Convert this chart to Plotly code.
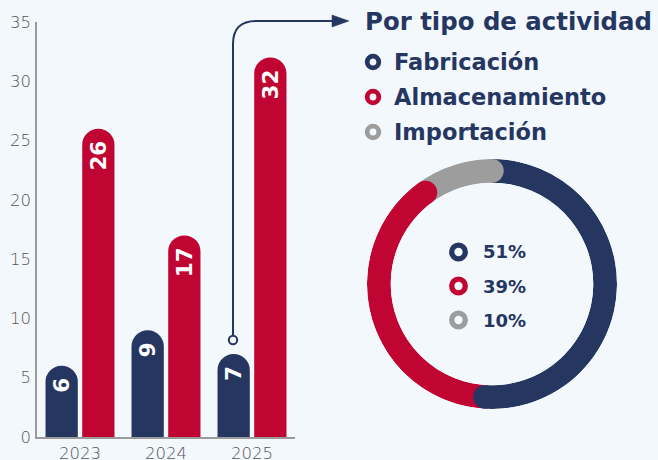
import numpy as np
import plotly.graph_objects as go

# --- data ---------------------------------------------------------------
years = ["2023", "2024", "2025"]
fabricacion = [6, 9, 7]
almacenamiento = [26, 17, 32]

activity_labels = ["Fabricación", "Almacenamiento", "Importación"]
activity_share = [51, 39, 10]

y_ticks = [0, 5, 10, 15, 20, 25, 30, 35]

# --- style --------------------------------------------------------------
NAVY = "#253761"
RED = "#C10532"
GRAY = "#9D9D9D"
BG = "#F3F8FD"
AXIS = "#9A9A9A"
TICK = "#555555"
BOLD = "DejaVu Sans"
LIGHT = "DejaVu Sans"

W, H = 658, 460


def px(x):
    return x / W


def py(y):
    return 1 - y / H


fig = go.Figure()

# --- grouped bars with rounded tops ------------------------------------
for name, vals, col in [("Fabricación", fabricacion, NAVY),
                        ("Almacenamiento", almacenamiento, RED)]:
    fig.add_trace(go.Bar(
        x=years, y=vals, name=name,
        marker=dict(color=col, line=dict(width=0)),
        text=[str(v) for v in vals],
        textposition="inside", insidetextanchor="end", textangle=-90,
        textfont=dict(family=BOLD, size=21.5, color="white", weight="bold"),
        cliponaxis=False, showlegend=False, hoverinfo="skip",
    ))

# --- donut: ring segments + rounded end caps ----------------------------
share = np.array(activity_share, dtype=float)
ends = np.cumsum(share) * 3.6
widths = share * 3.6
centres = ends - widths / 2
ring_colors = [NAVY, RED, GRAY]

fig.add_trace(go.Barpolar(
    r=[1] * len(share), theta=centres, width=widths,
    marker=dict(color=ring_colors, line=dict(width=0)),
    subplot="polar", showlegend=False, hoverinfo="skip",
))
fig.add_trace(go.Scatterpolar(
    r=[0.5] * len(share), theta=ends, mode="markers",
    marker=dict(color=ring_colors, size=23.5, line=dict(width=0)),
    subplot="polar", showlegend=False, hoverinfo="skip",
))

annotations = []
shapes = []

# title and legend
annotations.append(dict(
    x=px(363), y=py(22), xref="paper", yref="paper",
    xanchor="left", yanchor="middle", showarrow=False,
    text="Por tipo de actividad",
    font=dict(family=BOLD, size=24.4, color=NAVY, weight="bold"),
))


def ring(cx, cy, r, width, color):
    shapes.append(dict(
        type="circle", xref="paper", yref="paper",
        x0=px(cx - r), x1=px(cx + r), y0=py(cy + r), y1=py(cy - r),
        line=dict(color=color, width=width), fillcolor="rgba(0,0,0,0)",
    ))


for i, (lab, col) in enumerate(zip(activity_labels, ring_colors)):
    cy = 62 + 35 * i
    ring(373, cy, 5.8, 4.8, col)
    annotations.append(dict(
        x=px(392), y=py(cy), xref="paper", yref="paper",
        xanchor="left", yanchor="middle", showarrow=False, text=lab,
        font=dict(family=BOLD, size=22.5, color=NAVY, weight="bold"),
    ))

# percentages inside the donut
for i, (v, col) in enumerate(zip(activity_share, ring_colors)):
    cy = 252 + 34 * i
    ring(458.5, cy, 6.8, 5.3, col)
    annotations.append(dict(
        x=px(481), y=py(cy), xref="paper", yref="paper",
        xanchor="left", yanchor="middle", showarrow=False, text=f"{v}%",
        font=dict(family=BOLD, size=18, color=NAVY, weight="bold"),
    ))

# connector from the 2025 bars to the breakdown
path = (f"M {px(233)},{py(336)} L {px(233)},{py(44)} "
        f"Q {px(233)},{py(21)} {px(256)},{py(21)} L {px(336)},{py(21)}")
shapes.append(dict(type="path", xref="paper", yref="paper", path=path,
                   line=dict(color=NAVY, width=2)))
head = (f"M {px(349)},{py(21)} L {px(332)},{py(15)} "
        f"L {px(332)},{py(27)} Z")
shapes.append(dict(type="path", xref="paper", yref="paper", path=head,
                   fillcolor=NAVY, line=dict(color=NAVY, width=0.5)))
ring(233, 340, 4.2, 2, NAVY)
shapes[-1]["fillcolor"] = BG

fig.update_layout(
    width=W, height=H,
    margin=dict(l=0, r=0, t=0, b=0, autoexpand=False),
    paper_bgcolor=BG, plot_bgcolor=BG,
    barmode="group", bargap=0.147, bargroupgap=0.12,
    barcornerradius="50%",
    xaxis=dict(
        domain=[px(37), px(295)], type="category", automargin=False,
        showline=True, linecolor=AXIS, linewidth=1.5,
        showgrid=False, zeroline=False, ticks="", ticklabelstandoff=0,
        tickfont=dict(family=LIGHT, size=16.5, color=TICK, weight=300),
    ),
    yaxis=dict(
        domain=[py(437), py(22)], range=[0, 35], automargin=False,
        tickvals=y_ticks, ticktext=[str(t) for t in y_ticks],
        showline=True, linecolor=AXIS, linewidth=1.5,
        showgrid=False, zeroline=False, ticks="", ticklabelstandoff=1,
        tickfont=dict(family=LIGHT, size=16.5, color=TICK, weight=300),
    ),
    polar=dict(
        domain=dict(x=[px(367), px(617)], y=[py(409), py(159)]),
        hole=0.81, bgcolor="rgba(0,0,0,0)", bargap=0,
        radialaxis=dict(visible=False, range=[0, 1]),
        angularaxis=dict(visible=False, rotation=90, direction="clockwise"),
    ),
    annotations=annotations,
    shapes=shapes,
)

fig.write_html("out.html")
